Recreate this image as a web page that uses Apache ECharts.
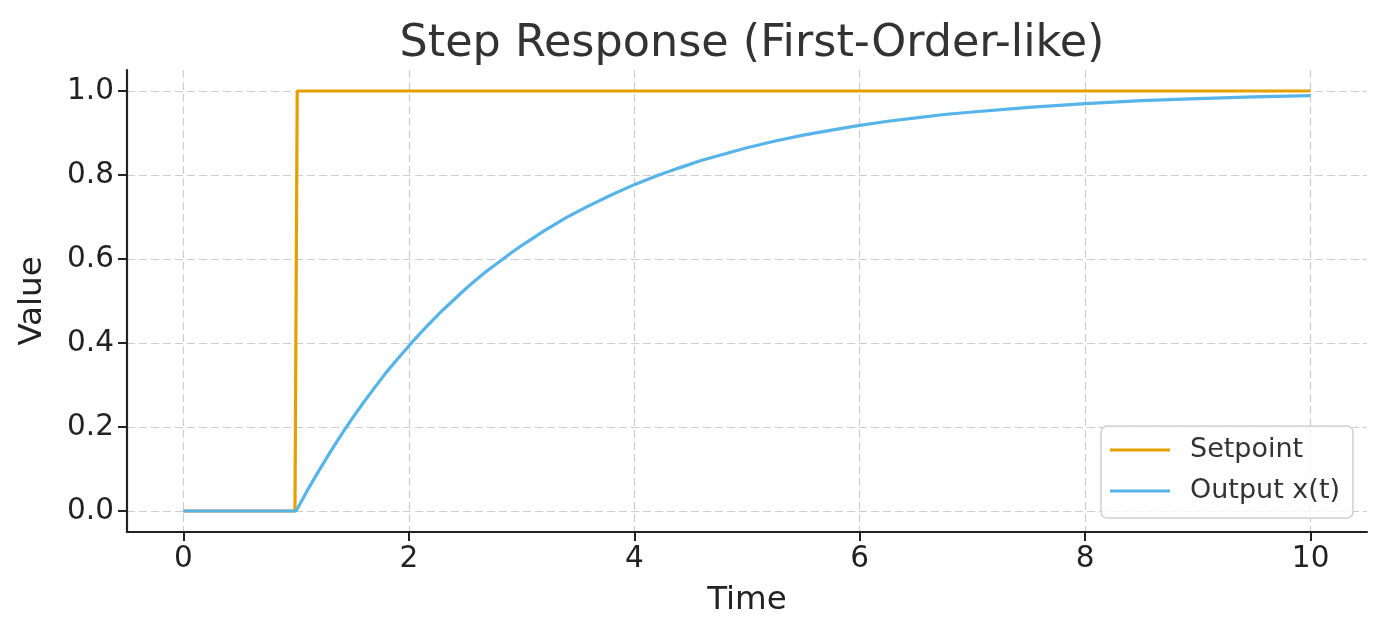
<!DOCTYPE html>
<html>
<head>
<meta charset="utf-8">
<script src="https://cdn.jsdelivr.net/npm/echarts@6/dist/echarts.min.js"></script>
<style>
html,body{margin:0;padding:0;background:#fff;}
#chart{width:1387px;height:639px;}
</style>
</head>
<body>
<div id="chart"></div>
<script>
const titleText = 'Step Response (First-Order-like)';
const xName = 'Time';
const yName = 'Value';
const xTicks = [0, 2, 4, 6, 8, 10];
const yTicks = [0, 0.2, 0.4, 0.6, 0.8, 1.0];
const setpointT = [0, 0.99, 1.01, 10];
const setpointV = [0, 0, 1, 1];
const outputT = [0, 1.0, 1.1, 1.2, 1.3, 1.4, 1.5, 1.6, 1.7, 1.8, 1.9, 2.0, 2.1, 2.2, 2.3, 2.4, 2.5, 2.6, 2.7, 2.8, 2.9, 3.0, 3.2, 3.4, 3.6, 3.8, 4.0, 4.2, 4.4, 4.6, 4.8, 5.0, 5.25, 5.5, 5.75, 6.0, 6.25, 6.5, 6.75, 7.0, 7.5, 8.0, 8.5, 9.0, 9.5, 10.0];
const outputV = [0, 0, 0.049, 0.095, 0.139, 0.181, 0.221, 0.259, 0.295, 0.330, 0.362, 0.393, 0.423, 0.451, 0.478, 0.503, 0.528, 0.551, 0.573, 0.593, 0.613, 0.632, 0.667, 0.699, 0.727, 0.753, 0.777, 0.798, 0.817, 0.835, 0.850, 0.865, 0.881, 0.895, 0.907, 0.918, 0.928, 0.936, 0.944, 0.950, 0.961, 0.970, 0.977, 0.982, 0.986, 0.989];

const FONT = '"DejaVu Sans", sans-serif';
const chart = echarts.init(document.getElementById('chart'), null, {renderer: 'canvas'});
const spine = {show: true, onZero: false, lineStyle: {color: '#222', width: 2.2}};
const tick = {show: true, inside: false, length: 9, lineStyle: {color: '#222', width: 2}};
const grid = {show: true, lineStyle: {color: '#cccccc', width: 1.2, type: [8, 4]}};

chart.setOption({
  animation: false,
  backgroundColor: '#fff',
  title: {
    text: titleText, left: 747, textAlign: 'center', top: 17,
    textStyle: {fontFamily: FONT, fontSize: 44.5, fontWeight: 'normal', color: '#333'}
  },
  grid: {left: 127, right: 20, top: 70, bottom: 107, containLabel: false},
  legend: {
    orient: 'vertical', right: 34, bottom: 121,
    icon: 'rect', itemWidth: 60, itemHeight: 3, itemGap: 7,
    padding: [7, 13, 10, 9],
    borderColor: '#d0d0d0', borderWidth: 1.5, borderRadius: 6,
    backgroundColor: 'rgba(255,255,255,0.8)',
    textStyle: {fontFamily: FONT, fontSize: 27, color: '#333', lineHeight: 34, padding: [0, 0, 0, 15]},
    data: ['Setpoint', 'Output x(t)']
  },
  xAxis: {
    type: 'value', min: -0.5, max: 10.5,
    name: xName, nameLocation: 'middle', nameGap: 52,
    nameTextStyle: {fontFamily: FONT, fontSize: 32.5, color: '#222'},
    axisLine: spine,
    axisTick: Object.assign({}, tick, {customValues: xTicks}),
    axisLabel: {customValues: xTicks, fontFamily: FONT, fontSize: 29.5, color: '#222', margin: 12,
      formatter: v => String(v)},
    splitLine: grid
  },
  yAxis: {
    type: 'value', min: -0.05, max: 1.05,
    name: yName, nameLocation: 'middle', nameGap: 78, nameRotate: 90,
    nameTextStyle: {fontFamily: FONT, fontSize: 32.5, color: '#222'},
    axisLine: spine,
    axisTick: Object.assign({}, tick, {customValues: yTicks}),
    axisLabel: {customValues: yTicks, fontFamily: FONT, fontSize: 29.5, color: '#222', margin: 13,
      formatter: v => Number(v).toFixed(1)},
    splitLine: grid
  },
  series: [
    {
      name: 'Setpoint', type: 'line', showSymbol: false, symbol: 'none',
      lineStyle: {color: '#E69F00', width: 3.2}, itemStyle: {color: '#E69F00'},
      data: setpointT.map((t, i) => [t, setpointV[i]]), z: 2
    },
    {
      name: 'Output x(t)', type: 'line', showSymbol: false, symbol: 'none',
      lineStyle: {color: '#56B4E9', width: 3.2}, itemStyle: {color: '#56B4E9'},
      data: outputT.map((t, i) => [t, outputV[i]]), z: 3
    }
  ]
});
</script>
</body>
</html>
